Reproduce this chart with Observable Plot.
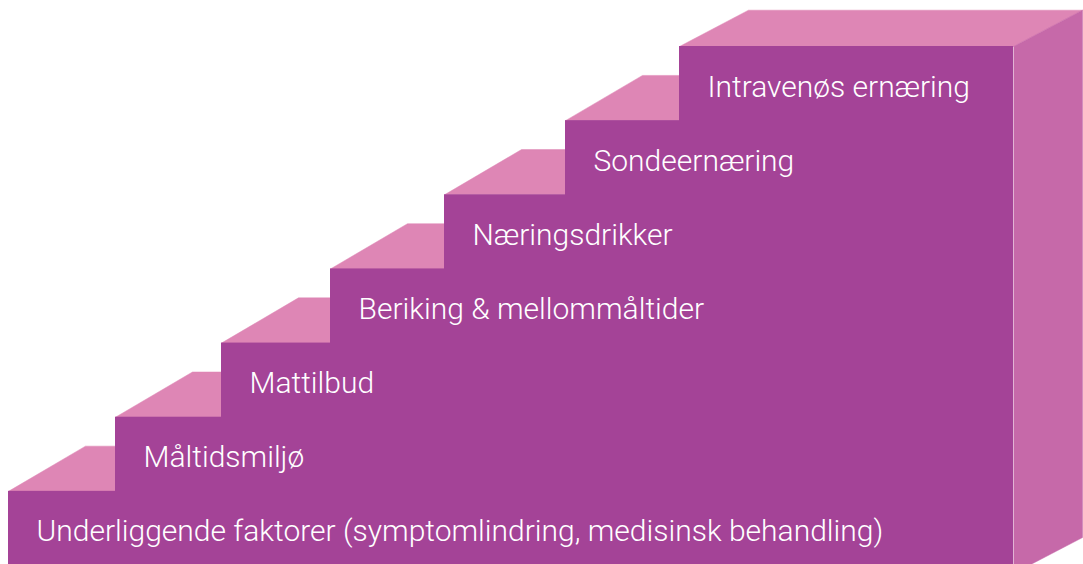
<!DOCTYPE html>
<html><head><meta charset="utf-8">
<script src="https://cdn.jsdelivr.net/npm/d3@7"></script>
<script src="https://cdn.jsdelivr.net/npm/@observablehq/plot@0.6"></script>
<style>html,body{margin:0;padding:0;overflow:hidden;background:#fff}</style>
</head><body><div id="chart"></div>
<script>
// Step labels, bottom to top
const labels = [
  "Underliggende faktorer (symptomlindring, medisinsk behandling)",
  "Måltidsmiljø",
  "Mattilbud",
  "Beriking & mellommåltider",
  "Næringsdrikker",
  "Sondeernæring",
  "Intravenøs ernæring"
];
// Left edge of each step's riser (horizontal units)
const stepLeft = [8, 115, 221, 330, 444, 565, 679];
// Top of each step, in step heights
const stepLevel = [1, 2, 3, 4, 5, 6, 7];
// Depth of each step's tread (horizontal units, step heights)
const depthX = [77, 77, 77, 77, 77, 77, 69];
const depthY = [0.61, 0.61, 0.61, 0.61, 0.61, 0.61, 0.49];
// Right edge of the staircase front and the side's floor level
const rightEdge = [1013];
const sideFloor = [-0.108, 0.377];

const cFront = "#a44397", cTop = "#de86b5", cSide = "#c669a9";

const steps = labels.map((label, i) => ({
  label, i, left: stepLeft[i], level: stepLevel[i],
  next: i < labels.length - 1 ? stepLeft[i + 1] : rightEdge[0] + depthX[i]
}));
const R = rightEdge[0];
const treads = steps.flatMap((s) => {
  const dx = depthX[s.i], dy = depthY[s.i];
  const backRight = s.i < steps.length - 1 ? s.next : R + dx;
  const frontRight = s.i < steps.length - 1 ? s.next : R;
  return [
    {step: s.i, x: s.left, y: s.level},
    {step: s.i, x: s.left + dx, y: s.level + dy},
    {step: s.i, x: backRight, y: s.level + dy},
    {step: s.i, x: frontRight, y: s.level}
  ];
});
const topStep = steps[steps.length - 1];
const side = [
  {x: R, y: topStep.level},
  {x: R + depthX[topStep.i], y: topStep.level + depthY[topStep.i]},
  {x: R + depthX[topStep.i], y: sideFloor[1]},
  {x: R, y: sideFloor[0]}
];

const chart = Plot.plot({
  width: 1083, height: 564, margin: 0,
  x: {domain: [0, 1083], range: [0, 1083], axis: null},
  y: {domain: [0, 7], range: [565, 46], axis: null},
  marks: [
    Plot.line(treads, {x: "x", y: "y", z: "step", fill: cTop, stroke: cTop, strokeWidth: 0.5}),
    Plot.rect(steps, {x1: "left", x2: () => R, y1: () => -0.2, y2: "level", fill: cFront, clip: true}),
    Plot.line(side, {x: "x", y: "y", fill: cSide, stroke: cSide, strokeWidth: 0.5, clip: true}),
    Plot.text(steps, {
      x: "left", y: "level", text: "label", dx: 28, dy: 50,
      lineAnchor: "bottom", textAnchor: "start", fill: "white",
      fontSize: 30, fontWeight: 300, fontFamily: "Roboto"
    })
  ]
});
document.getElementById("chart").append(chart);
</script>
</body></html>
